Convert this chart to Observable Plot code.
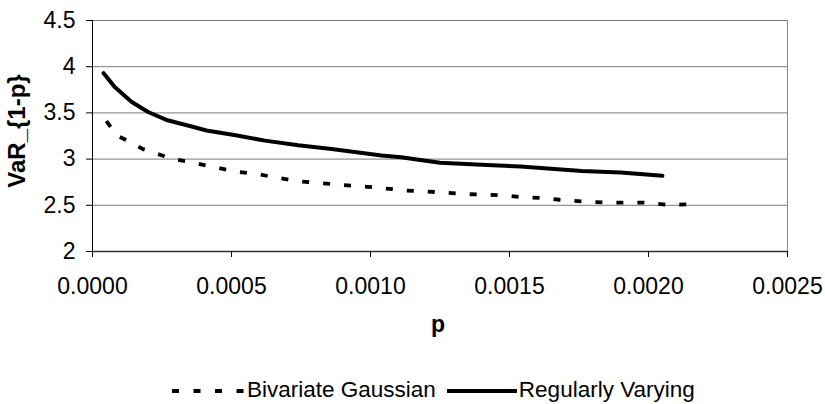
<!DOCTYPE html>
<html>
<head>
<meta charset="utf-8">
<script src="https://cdn.jsdelivr.net/npm/d3@7"></script>
<script src="https://cdn.jsdelivr.net/npm/@observablehq/plot@0.6"></script>
<style>
  body { margin: 0; background: #fff; }
  #wrap { position: relative; width: 825px; height: 404px; font-family: "Liberation Sans", Arial, sans-serif; }
  #legend { position: absolute; left: 172px; top: 374px; height: 32px; display: flex; align-items: center; font-size: 22.5px; color: #000; white-space: nowrap; }
  #legend svg { display: block; }
</style>
</head>
<body>
<div id="wrap">
  <div id="chart"></div>
  <div id="legend"></div>
</div>
<script>
// Regularly Varying
const pRV   = [0.00004, 0.00008, 0.00014, 0.00020, 0.00027, 0.00036, 0.00041, 0.00051, 0.00062, 0.00074, 0.00086, 0.00104, 0.00111, 0.00125, 0.00140, 0.00154, 0.00176, 0.00190, 0.00205];
const varRV = [3.93,    3.78,    3.62,    3.51,    3.42,    3.35,    3.31,    3.26,    3.20,    3.15,    3.11,    3.04,    3.02,    2.96,    2.94,    2.92,    2.87,    2.855,   2.82];
// Bivariate Gaussian
const pBG   = [0.00005, 0.00009, 0.00014, 0.00018, 0.00023, 0.00029, 0.00035, 0.00044, 0.00053, 0.00059, 0.00066, 0.00074, 0.00082, 0.00090, 0.00099, 0.00113, 0.00120, 0.00135, 0.00147, 0.00154, 0.00161, 0.00168, 0.00177, 0.00185, 0.00192, 0.00198, 0.00207, 0.00214];
const varBG = [3.41,    3.25,    3.18,    3.11,    3.06,    3.00,    2.97,    2.91,    2.86,    2.84,    2.80,    2.76,    2.74,    2.72,    2.70,    2.66,    2.65,    2.62,    2.61,    2.59,    2.58,    2.56,    2.54,    2.53,    2.53,    2.53,    2.505,   2.51];

const xTicks = [0, 0.0005, 0.0010, 0.0015, 0.0020, 0.0025];
const yTicks = [2, 2.5, 3, 3.5, 4, 4.5];
const seriesNames = ["Bivariate Gaussian", "Regularly Varying"];
const xLabel = "p";
const yLabel = "VaR_{1-p}";

const rv = pRV.map((p, i) => ({p, v: varRV[i]}));
const bg = pBG.map((p, i) => ({p, v: varBG[i]}));

const chart = Plot.plot({
  width: 825,
  height: 372,
  marginLeft: 92,
  marginRight: 38,
  marginTop: 20,
  marginBottom: 121,
  style: {fontFamily: '"Liberation Sans", Arial, sans-serif', fontSize: "23px", color: "#000", background: "#fff"},
  x: {domain: [0, 0.0025]},
  y: {domain: [2, 4.5]},
  marks: [
    Plot.gridY(yTicks, {stroke: "#7a7a7a", strokeOpacity: 1, strokeWidth: 1}),
    Plot.ruleX([0.0025], {stroke: "#8a8a8a", strokeWidth: 1}),
    Plot.ruleY([2], {stroke: "#333", strokeWidth: 1.5}),
    Plot.ruleX([0], {stroke: "#000", strokeWidth: 1}),
    Plot.axisX(xTicks, {tickSize: 6, tickPadding: 20, tickFormat: d3.format(".4f"), label: null, fontSize: 23}),
    Plot.axisY(yTicks, {tickSize: 6, tickPadding: 11, tickFormat: d => String(d), label: null, fontSize: 23}),
    Plot.line(bg, {x: "p", y: "v", stroke: "#000", strokeWidth: 3.8, strokeDasharray: "7,14", strokeLinecap: "butt"}),
    Plot.line(rv, {x: "p", y: "v", stroke: "#000", strokeWidth: 4}),
    Plot.text([xLabel], {frameAnchor: "bottom", textAnchor: "middle", dy: 80, dx: -2, fontWeight: "bold", fontSize: 23}),
    Plot.text([yLabel], {frameAnchor: "left", textAnchor: "middle", lineAnchor: "middle", rotate: -90, dx: -75, dy: -5, fontWeight: "bold", fontSize: 24})
  ]
});
document.getElementById("chart").appendChild(chart);

const legend = document.getElementById("legend");
legend.innerHTML =
  `<svg width="75" height="20"><line x1="0" y1="11" x2="75" y2="11" stroke="#000" stroke-width="3.8" stroke-dasharray="7,14.5"/></svg>` +
  `<span>${seriesNames[0]}</span>` +
  `<svg width="74" height="20" style="margin-left:9px"><line x1="2" y1="11" x2="72" y2="11" stroke="#000" stroke-width="4"/></svg>` +
  `<span>${seriesNames[1]}</span>`;
</script>
</body>
</html>
